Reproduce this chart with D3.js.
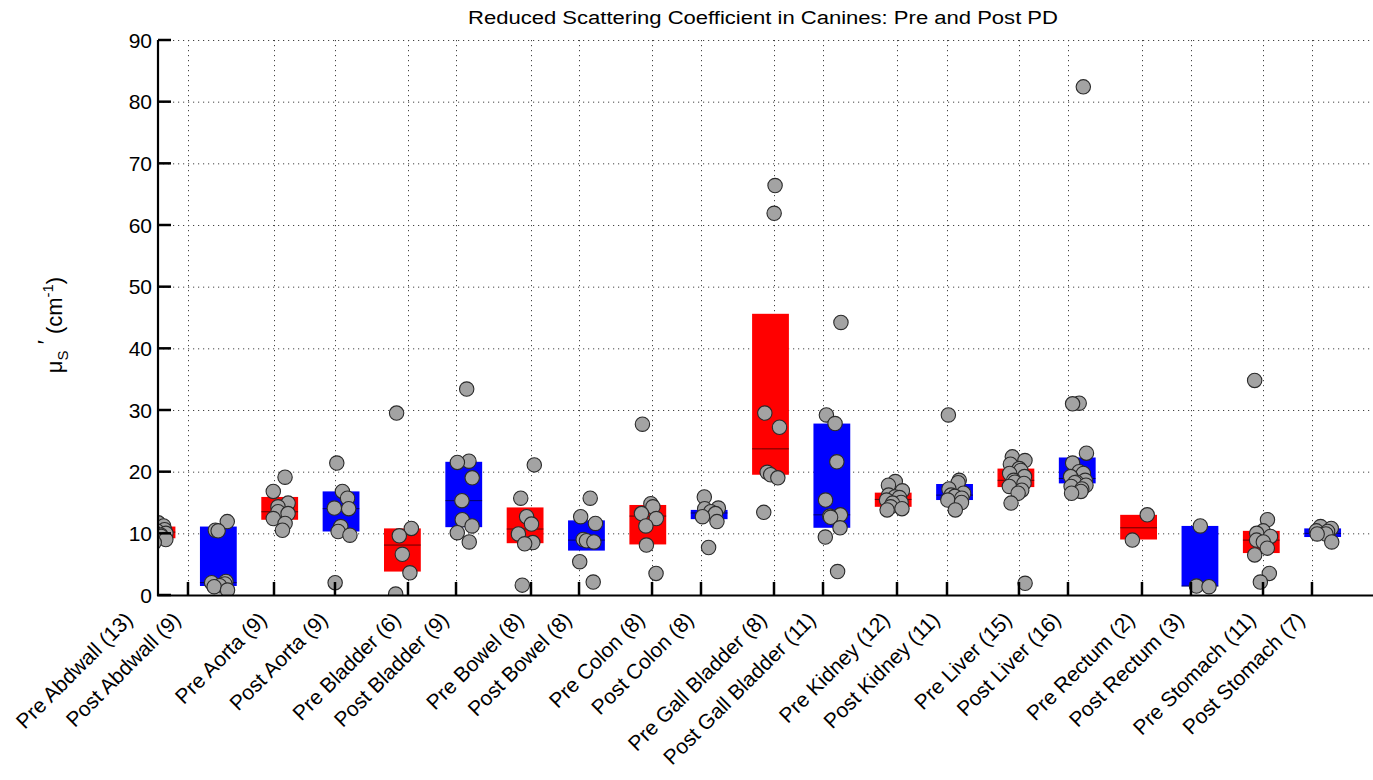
<!DOCTYPE html>
<html>
<head>
<meta charset="utf-8">
<script src="https://cdn.jsdelivr.net/npm/d3@7"></script>
<style>
  html, body { margin: 0; padding: 0; background: #fff; }
  svg { display: block; }
  text { font-family: "Liberation Sans", Arial, Helvetica, sans-serif; fill: #000; }
</style>
</head>
<body>
<svg id="chart" width="1373" height="780"></svg>
<script>
// Tissue groups (pre / post photodynamic therapy), with sample counts
const categories = [
  "Pre Abdwall (13)", "Post Abdwall (9)", "Pre Aorta (9)", "Post Aorta (9)",
  "Pre Bladder (6)", "Post Bladder (9)", "Pre Bowel (8)", "Post Bowel (8)",
  "Pre Colon (8)", "Post Colon (8)", "Pre Gall Bladder (8)", "Post Gall Bladder (11)",
  "Pre Kidney (12)", "Post Kidney (11)", "Pre Liver (15)", "Post Liver (16)",
  "Pre Rectum (2)", "Post Rectum (3)", "Pre Stomach (11)", "Post Stomach (7)"
];

// Tick-label anchor positions along the category axis
const labelTicks = [
  0.72, 1.505, 2.907, 3.901, 5.091, 5.874, 7.096, 7.879, 9.069, 9.867,
  11.057, 11.856, 13.062, 13.877, 15.05, 15.849, 17.055, 17.854, 19.028, 19.826
];

// Box statistics (cm^-1): lower quartile, median, upper quartile
const boxLow = [9.2, 1.46, 12.2, 10.3, 3.8, 11.0, 8.4, 7.2, 8.2, 12.3,
                19.5, 10.9, 14.3, 15.4, 17.5, 18.1, 9.0, 1.4, 6.8, 9.4];
const boxMedian = [10.2, 2.0, 13.5, 14.0, 8.1, 15.3, 10.7, 8.9, 12.8, 13.3,
                   23.7, 13.0, 15.5, 16.2, 18.6, 18.9, 10.9, 1.45, 8.9, 10.0];
const boxHigh = [11.1, 11.1, 15.9, 16.8, 10.8, 21.6, 14.2, 12.1, 14.6, 13.8,
                 45.6, 27.8, 16.6, 18.0, 20.5, 22.3, 13.0, 11.2, 10.4, 10.8];

// Individual measurements per group (cm^-1)
const preAbdwall = [11.7, 11.2, 10.9, 10.6, 10.4, 10.2, 10.0, 9.9, 9.7, 9.5, 9.3, 9.0, 8.5];
const postAbdwall = [11.9, 10.5, 10.4, 2.2, 2.0, 1.8, 1.5, 1.35, 0.8];
const preAorta = [19.1, 16.8, 14.9, 14.3, 13.5, 13.2, 12.4, 11.6, 10.5];
const postAorta = [21.4, 16.8, 15.7, 14.1, 14.0, 11.1, 10.3, 9.7, 2.0];
const preBladder = [29.5, 10.8, 9.6, 6.6, 3.6, 0.15];
const postBladder = [33.4, 21.7, 21.5, 19.0, 15.3, 12.2, 11.2, 10.1, 8.6];
const preBowel = [21.1, 15.7, 12.7, 11.5, 9.9, 8.5, 8.3, 1.6];
const postBowel = [15.7, 12.7, 11.6, 9.0, 8.8, 8.6, 5.4, 2.1];
const preColon = [27.7, 14.8, 14.3, 13.2, 12.4, 11.2, 8.1, 3.5];
const postColon = [15.9, 14.1, 14.0, 13.5, 13.2, 12.7, 11.9, 7.7];
const preGallBladder = [66.4, 61.9, 29.5, 27.2, 19.9, 19.5, 19.0, 13.4];
const postGallBladder = [44.2, 29.2, 27.8, 21.6, 15.4, 13.0, 12.8, 12.6, 10.9, 9.4, 3.8];
const preKidney = [18.4, 17.8, 16.9, 16.2, 15.9, 15.8, 15.4, 15.0, 14.9, 14.3, 14.0, 13.8];
const postKidney = [29.2, 18.6, 18.2, 17.2, 16.5, 16.2, 16.0, 15.7, 15.4, 15.0, 13.8];
const preLiver = [22.4, 21.8, 21.2, 20.5, 20.2, 19.7, 19.2, 18.6, 18.3, 18.1, 17.6, 17.0, 16.5, 14.9, 1.9];
const postLiver = [82.4, 31.1, 31.0, 23.0, 21.4, 20.0, 19.7, 19.2, 18.6, 18.3, 18.2, 17.8, 17.6, 17.2, 16.8, 16.5];
const preRectum = [13.0, 8.9];
const postRectum = [11.2, 1.45, 1.35];
const preStomach = [34.8, 12.2, 10.4, 10.0, 9.5, 8.9, 8.6, 7.6, 6.5, 3.5, 2.1];
const postStomach = [11.1, 10.8, 10.4, 10.3, 9.9, 9.9, 8.6];

const samples = [
  preAbdwall, postAbdwall, preAorta, postAorta, preBladder, postBladder,
  preBowel, postBowel, preColon, postColon, preGallBladder, postGallBladder,
  preKidney, postKidney, preLiver, postLiver, preRectum, postRectum,
  preStomach, postStomach
];

const yTicks = [0, 10, 20, 30, 40, 50, 60, 70, 80, 90];

// ---- layout ----
const svg = d3.select("#chart");
const plot = { left: 158, right: 1373, top: 40, bottom: 595 };

// group k sits at position k+1
const x = d3.scaleLinear().domain([1, 20]).range([157, 157 + 61.35 * 19]);
const y = d3.scaleLinear().domain([0, 90]).range([plot.bottom, plot.top]);

svg.append("defs").append("clipPath").attr("id", "plotClip")
  .append("rect")
  .attr("x", plot.left).attr("y", plot.top - 10)
  .attr("width", plot.right - plot.left).attr("height", plot.bottom - plot.top + 10);

// dotted grid
const grid = svg.append("g").attr("stroke", "#444").attr("stroke-width", 1)
  .attr("stroke-dasharray", "1.2,3.8");
grid.selectAll("line.h").data(yTicks.filter(d => d > 0)).join("line")
  .attr("class", "h")
  .attr("x1", plot.left).attr("x2", plot.right)
  .attr("y1", d => y(d) + 0.5).attr("y2", d => y(d) + 0.5);
grid.selectAll("line.v").data(labelTicks.filter(t => x(t) >= plot.left)).join("line")
  .attr("class", "v")
  .attr("x1", d => Math.round(x(d)) + 0.5).attr("x2", d => Math.round(x(d)) + 0.5)
  .attr("y1", plot.top).attr("y2", plot.bottom);

// boxes, medians and sample points
const marks = svg.append("g").attr("clip-path", "url(#plotClip)");
const halfW = 0.3;
const boxColor = i => (i % 2 === 0 ? "#ff0000" : "#0000ff");

marks.selectAll("rect.box").data(categories).join("rect")
  .attr("class", "box")
  .attr("x", (d, i) => x(i + 1 - halfW))
  .attr("width", (d, i) => x(i + 1 + halfW) - x(i + 1 - halfW))
  .attr("y", (d, i) => y(boxHigh[i]))
  .attr("height", (d, i) => y(boxLow[i]) - y(boxHigh[i]))
  .attr("fill", (d, i) => boxColor(i));

marks.selectAll("line.median").data(categories).join("line")
  .attr("class", "median")
  .attr("x1", (d, i) => x(i + 1 - halfW))
  .attr("x2", (d, i) => x(i + 1 + halfW))
  .attr("y1", (d, i) => y(boxMedian[i]))
  .attr("y2", (d, i) => y(boxMedian[i]))
  .attr("stroke", "#000").attr("stroke-opacity", 0.6).attr("stroke-width", 1);

// deterministic horizontal spread so overlapping samples stay visible
const spread = (g, j) => 0.13 * Math.sin(j * 2.39996 + g * 1.3) + 0.02;

const pts = [];
samples.forEach((vals, g) => vals.forEach((v, j) => pts.push({ g, j, v })));
marks.selectAll("circle.pt").data(pts).join("circle")
  .attr("class", "pt")
  .attr("cx", d => x(d.g + 1 + spread(d.g, d.j)))
  .attr("cy", d => y(d.v))
  .attr("r", 7.2)
  .attr("fill", "#a3a3a3")
  .attr("stroke", "#2a2a2a")
  .attr("stroke-width", 1.1);

// axes
const axes = svg.append("g").attr("stroke", "#000");
axes.append("line").attr("x1", plot.left).attr("x2", plot.left)
  .attr("y1", plot.top).attr("y2", plot.bottom + 1).attr("stroke-width", 2.2);
axes.append("line").attr("x1", plot.left - 1).attr("x2", plot.right)
  .attr("y1", plot.bottom + 0.5).attr("y2", plot.bottom + 0.5).attr("stroke-width", 2.2);
axes.selectAll("line.yt").data(yTicks).join("line").attr("class", "yt")
  .attr("x1", plot.left).attr("x2", plot.left + 13)
  .attr("y1", d => y(d)).attr("y2", d => y(d)).attr("stroke-width", 2.5);
axes.selectAll("line.xt").data(labelTicks.filter(t => x(t) >= plot.left)).join("line").attr("class", "xt")
  .attr("x1", d => x(d)).attr("x2", d => x(d))
  .attr("y1", plot.bottom).attr("y2", plot.bottom - 13).attr("stroke-width", 2.5);

// y tick labels
svg.append("g").selectAll("text").data(yTicks).join("text")
  .attr("x", 152).attr("y", d => y(d)).attr("dy", "0.36em")
  .attr("text-anchor", "end").attr("font-size", 21)
  .text(d => d);

// rotated category labels
svg.append("g").selectAll("text").data(categories).join("text")
  .attr("transform", (d, i) => `translate(${x(labelTicks[i]) - 6},${621}) rotate(-45)`)
  .attr("text-anchor", "end").attr("font-size", 21)
  .text(d => d);

// y axis title
const yl = svg.append("text")
  .attr("transform", "translate(62,325) rotate(-90)")
  .attr("text-anchor", "middle").attr("font-size", 22);
yl.append("tspan").text("μ");
yl.append("tspan").attr("font-size", 15).attr("dy", 6).text("S");
yl.append("tspan").attr("dy", -15).text("  ′");
yl.append("tspan").attr("dy", 9).text("  (cm");
yl.append("tspan").attr("font-size", 15).attr("dy", -9).text("-1");
yl.append("tspan").attr("dy", 9).text(")");

// chart title
svg.append("text")
  .attr("x", 763).attr("y", 24)
  .attr("text-anchor", "middle").attr("font-size", 18)
  .attr("textLength", 590).attr("lengthAdjust", "spacingAndGlyphs")
  .text("Reduced Scattering Coefficient in Canines: Pre and Post PD");
</script>
</body>
</html>
